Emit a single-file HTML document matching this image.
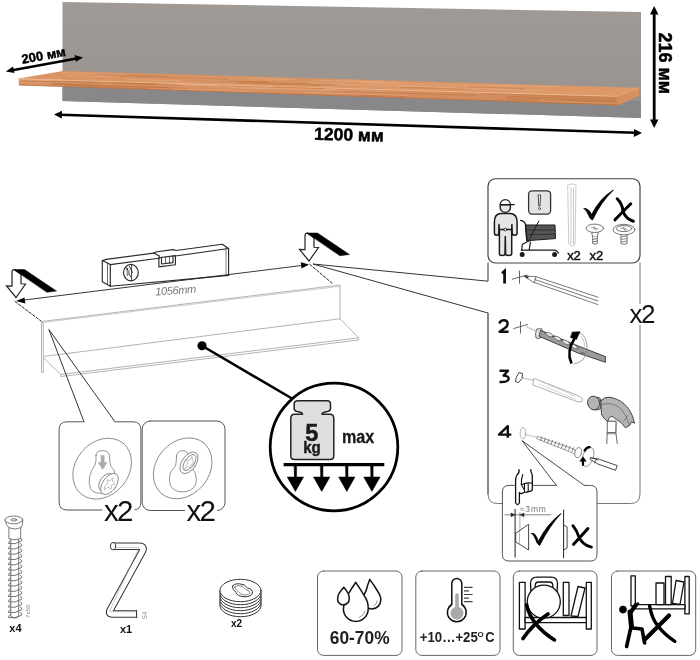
<!DOCTYPE html>
<html><head><meta charset="utf-8">
<style>
html,body{margin:0;padding:0;background:#fff;}
body{width:700px;height:660px;overflow:hidden;position:relative;}
svg{position:absolute;left:0;top:0;will-change:transform;}
text{font-family:"Liberation Sans",sans-serif;}
</style></head>
<body>
<svg width="700" height="660" viewBox="0 0 700 660">
<defs>
<linearGradient id="gp" x1="0" y1="0" x2="0" y2="1">
<stop offset="0" stop-color="#9f9a95"/><stop offset="0.7" stop-color="#9a9590"/><stop offset="1" stop-color="#928e8a"/>
</linearGradient>
<linearGradient id="wt" x1="0" y1="0" x2="0" y2="1">
<stop offset="0" stop-color="#d89263"/><stop offset="1" stop-color="#df9a69"/>
</linearGradient>
<linearGradient id="wf" x1="0" y1="0" x2="0" y2="1">
<stop offset="0" stop-color="#dc9565"/><stop offset="0.5" stop-color="#d69060"/><stop offset="1" stop-color="#cf895a"/>
</linearGradient>
</defs>
<g id="photo">
<polygon points="62.5,2 641,12 641,118 62.5,101" fill="url(#gp)"/>
<polygon points="62.5,86 641,101 641,118 62.5,101" fill="#88888a"/>
<polygon points="18.6,78.4 63,71 639,87.7 617.7,95.7" fill="url(#wt)"/>
<polygon points="18.6,78.4 617.7,95.7 617.7,105.4 19.1,85.3" fill="url(#wf)"/>
<g fill="none" stroke-linecap="round">
<path d="M110.0,75.8 L228.1,79.2 M298.9,79.5 L343.4,80.8 M468.2,86.8 L523.1,88.4 M240.2,81.2 L397.4,85.7 M92.4,74.1 L169.4,76.3 M227.4,81.2 L333.1,84.3 M256.6,82.3 L334.3,84.6 M400.5,87.2 L469.8,89.2 M182.6,80.5 L340.2,85.1 M289.2,79.8 L333.9,81.1 M196.3,81.9 L319.7,85.4" stroke="#b5703f" stroke-width="0.8" opacity="0.55"/>
<path d="M314.0,80.0 L397.9,82.5 M67.0,75.2 L117.9,76.7 M362.5,82.4 L516.3,86.9 M485.0,84.8 L559.7,87.0 M125.8,79.4 L235.6,82.6 M61.6,72.7 L126.3,74.5 M270.2,82.1 L346.2,84.3 M308.4,83.1 L453.4,87.3 M251.6,78.5 L382.5,82.3 M435.2,87.4 L544.0,90.6 M337.3,84.1 L432.1,86.8" stroke="#eab088" stroke-width="0.8" opacity="0.6"/>
<path d="M19,79 L617.7,96.3" stroke="#f0ba90" stroke-width="1.1" opacity="0.9"/>
<path d="M19.1,85 L617.7,105" stroke="#a8683a" stroke-width="0.9" opacity="0.7"/>
<path d="M53.4,84.0 L167.5,87.6 M566.2,100.2 L616.0,101.8 M273.9,86.9 L324.1,88.4 M52.4,80.9 L174.6,84.5 M64.3,85.5 L148.2,88.3 M505.9,97.6 L616.0,101.1 M506.3,96.2 L616.0,99.6 M116.9,83.0 L174.8,84.7 M22.3,80.8 L102.5,83.2 M331.5,90.9 L475.9,95.4 M49.7,83.9 L187.6,88.4 M501.0,99.1 L616.0,102.9 M54.2,83.9 L92.3,85.1 M109.3,83.1 L180.1,85.3 M220.0,85.8 L253.0,86.8 M357.7,95.1 L405.6,96.7 M486.9,93.9 L616.0,97.8" stroke="#b06a3a" stroke-width="0.7" opacity="0.6"/>
<path d="M539.6,100.8 L616.0,103.3 M232.2,87.3 L342.4,90.7 M156.2,84.1 L233.1,86.4 M173.1,89.0 L253.0,91.6 M286.7,88.6 L387.4,91.7 M303.5,92.2 L407.6,95.5 M239.4,88.2 L281.9,89.5 M20.1,79.6 L68.3,81.0 M211.1,86.5 L284.8,88.7" stroke="#eab088" stroke-width="0.7" opacity="0.6"/>
</g>
<polygon points="617.7,95.7 639,87.7 639,96 617.7,105.4" fill="#d89062"/>
<line x1="617.7" y1="95.7" x2="639" y2="87.7" stroke="#e8aa7a" stroke-width="0.8"/>
<!-- dims -->
<g fill="#000" stroke="#000">
<line x1="11" y1="70.5" x2="78" y2="58.3" stroke-width="2.4"/>
<polygon points="5.8,71.5 13,66.5 14.5,73" stroke="none"/>
<polygon points="83,57.4 74.5,55 76,61.8" stroke="none"/>
<line x1="60" y1="114.7" x2="636" y2="132.8" stroke-width="2.6"/>
<polygon points="54,114.5 62,110.8 61.8,118.5" stroke="none"/>
<polygon points="642,133 634,129 633.8,137" stroke="none"/>
<line x1="654.2" y1="12" x2="654.2" y2="122" stroke-width="2.8"/>
<polygon points="654.2,5.9 650,14.5 658.4,14.5" stroke="none"/>
<polygon points="654.2,128 650,119.5 658.4,119.5" stroke="none"/>
</g>
<text x="0" y="0" font-size="13" font-weight="bold" stroke="#000" stroke-width="0.45" transform="translate(22.5,63.8) rotate(-10.4)">200 мм</text>
<text x="0" y="0" font-size="17.5" font-weight="bold" stroke="#000" stroke-width="0.5" transform="translate(314,139.8) rotate(1.5)">1200 мм</text>
<text x="0" y="0" font-size="18" font-weight="bold" stroke="#000" stroke-width="0.5" transform="translate(658.8,32.5) rotate(90)">216 мм</text>
</g>

<g id="mid" fill="none" stroke-linejoin="round" stroke-linecap="round">
<!-- shelf drawing -->
<g stroke="#b4b4b4" stroke-width="1">
<polyline points="41.5,321.5 340,285 340,318.75"/>
<line x1="42.5" y1="322.5" x2="340" y2="286.3" stroke-width="0.7"/>
<polyline points="41.5,321.5 41.5,372.4 43.3,372.4 43.3,323"/>
<line x1="43.3" y1="356.5" x2="340" y2="318.75"/>
<polyline points="43.3,357.5 60.6,374.5 358.75,337.8"/>
<polyline points="60.6,374.5 60.9,376.5 358.75,340 358.75,337.8 340,318.75"/>
</g>
<!-- level -->
<g stroke="#2a2a2a" stroke-width="1.15">
<polygon points="102.3,260.6 110.3,264.6 110.3,286.3 102.3,281.7" fill="#fff"/>
<line x1="107.5" y1="263" x2="107.5" y2="284.5" stroke-width="0.7"/>
<polyline points="102.3,260.6 106.3,259.4 153.7,253.1 159.4,256 158.9,258.3"/>
<polyline points="153.7,253.1 157,251.8 173,249.6 176,250.5 222.4,244.3 228.6,248.5 228.6,275.4"/>
<line x1="110.3" y1="264.6" x2="158.9" y2="258.3"/>
<line x1="175.4" y1="256" x2="228.6" y2="248.5"/>
<line x1="110.3" y1="286.3" x2="228.6" y2="275.4"/>
<line x1="226" y1="246.8" x2="226" y2="275.5" stroke-width="0.6"/>
<polygon points="158.9,257.7 175.4,255.6 175.4,264.7 158.9,266.9"/>
<polyline points="161.5,257.4 161.5,264 173,262.6 173,255.9"/>
<line x1="165.5" y1="257" x2="165.5" y2="263.3" stroke-width="0.7"/>
<line x1="169.5" y1="256.4" x2="169.5" y2="262.9" stroke-width="0.7"/>
<ellipse cx="130.9" cy="272.6" rx="7.4" ry="8.2"/>
<path d="M131.6,264.8 L131.6,280.2 M125.8,267.5 L130.6,276.8 M127.5,268.5 L127.2,275.5 M129.5,266.5 L132.5,272.5" stroke-width="0.9"/><path d="M126.8,271 L129.5,269.5 L130,274 L127.5,275.5 Z" fill="#999" stroke="none"/>
</g>
<!-- dim line -->
<line x1="22" y1="300.3" x2="304" y2="265.2" stroke="#222" stroke-width="0.9"/>
<polygon points="16,301 24.5,297.5 25.3,303.6" fill="#000" stroke="none"/>
<polygon points="309,264.5 300.8,262.3 301.6,268.5" fill="#000" stroke="none"/>
<text x="0" y="0" font-size="11" font-style="italic" fill="#777" stroke="none" transform="translate(155.5,295.5) rotate(-4)" textLength="41">1056mm</text>
<!-- dashed -->
<g stroke="#222" stroke-width="1" stroke-dasharray="2.6,1.8">
<line x1="15" y1="301.5" x2="41" y2="321"/>
<line x1="310" y1="264.5" x2="333" y2="284"/>
</g>
<!-- arrow icons -->
<g id="ai">
<path d="M12,286.2 L12,272 Q12,269.5 14.5,269.5 L21,274.2 L21,283.8 L25.5,284 L16,297.5 L6.5,286 Z" fill="#fff" stroke="#222" stroke-width="1.2" stroke-linejoin="miter"/>
<polygon points="13.8,269.5 24.5,269.5 56.5,291 47,292.2" fill="#000" stroke="#000" stroke-width="0.5"/>
</g>
<g transform="translate(293,-36.5)">
<path d="M12,286.2 L12,272 Q12,269.5 14.5,269.5 L21,274.2 L21,283.8 L25.5,284 L16,297.5 L6.5,286 Z" fill="#fff" stroke="#222" stroke-width="1.2" stroke-linejoin="miter"/>
<polygon points="13.8,269.5 24.5,269.5 56.5,291 47,292.2" fill="#000" stroke="#000" stroke-width="0.5"/>
</g>
<!-- callout lines to instruction frame -->
<polyline points="488,263 488,281.2 313,264 488,313 488,494" stroke="#333" stroke-width="1"/>
<!-- dot and magnifier line -->
<circle cx="202" cy="345.75" r="4.6" fill="#000" stroke="none"/>
<line x1="202" y1="345.75" x2="292" y2="398.5" stroke="#000" stroke-width="2.6"/>
<!-- callout lines to panels -->
<polyline points="84,421.8 48.8,329.4 115,421.8" stroke="#333" stroke-width="1"/>
</g>

<g id="instr" fill="none" stroke-linejoin="round" stroke-linecap="round">
<!-- big frame -->
<path d="M488,313 L488,494 Q488,503.5 497.5,503.5 L630.5,503.5 Q640,503.5 640,494 L640,263" stroke="#777" stroke-width="1"/>
<rect x="630" y="304" width="22" height="21" fill="#fff" stroke="none"/>
<text x="629.5" y="323.3" font-size="26" fill="#111" stroke="none" letter-spacing="-1.6">x2</text>
<!-- top panel -->
<rect x="488" y="178.75" width="152" height="84.25" rx="7.5" fill="#fff" stroke="#444" stroke-width="1.2"/>
<!-- worker -->
<g stroke="#1a1a1a" stroke-width="1.5">
<path d="M500.5,213.5 Q494.4,214 494.4,222 L494.4,233 Q494.4,235.2 496.6,235.2 Q498.8,235.2 498.8,233 L499,224.5 L499.4,229.5 L499.4,253.8 Q499.4,255.5 502.2,255.5 Q505,255.5 505,253.8 L505.3,236.5 L505.6,253.8 Q505.6,255.5 508.6,255.5 Q511.7,255.5 511.7,253.8 L511.7,229.5 L511.9,224.5 L512.2,233 Q512.2,235.2 514.6,235.2 Q517.1,235.2 517.1,233 L517.1,222 Q517.1,214 510.5,213.5 Z" fill="#e6e6e6"/>
<line x1="499.4" y1="229.5" x2="511.7" y2="229.5" stroke-width="1.3"/>
<circle cx="505.4" cy="229.5" r="1.4" fill="#fff" stroke-width="0.9"/>
<circle cx="505.3" cy="207.2" r="5.2" fill="#e6e6e6" stroke-width="1.4"/>
<path d="M500.1,204.8 A5.2,5.2 0 0 1 510.5,204.8 Z" fill="#fff" stroke-width="1.2"/>
<line x1="500.1" y1="204.6" x2="514.3" y2="204.6" stroke-width="1.2"/>
</g>
<!-- exclamation -->
<rect x="528.6" y="190.8" width="22" height="23.3" rx="3.5" fill="#e3e3e3" stroke="#333" stroke-width="1.3"/>
<path d="M538.6,195 L540.6,195 L540,206 L539.2,206 Z" fill="#fff" stroke="#333" stroke-width="0.9"/>
<circle cx="539.6" cy="208.6" r="1" fill="#fff" stroke="#333" stroke-width="0.8"/>
<!-- cart -->
<g stroke="#1a1a1a" stroke-width="1.2">
<path d="M525.7,225 L555,225 L555.4,238.6 L527,240.7 Z" fill="#555" stroke-width="1"/>
<path d="M526.2,230 L555.2,230 M526.5,234.5 L555.3,234.2" stroke="#222" stroke-width="0.7"/>
<path d="M520.7,220.4 Q524.5,221 525.7,225 L527,240.7" stroke-width="1.3"/>
<path d="M538.9,221 L529.3,239.5" stroke-width="1"/>
<path d="M529.3,240.8 L522.3,244.3 L521.6,250.5 M530.4,242 L529.2,250" stroke-width="1.2"/>
<path d="M521.4,250.2 L555,250.2 Q557,250.5 558.4,253" stroke-width="1.3"/>
<circle cx="522.2" cy="254.4" r="1.9" fill="#1a1a1a"/>
<circle cx="554.6" cy="254.6" r="1.9" fill="#1a1a1a"/>
</g>
<!-- dowel -->
<g stroke="#bbb" stroke-width="0.8">
<path d="M568,185 Q572,182.5 576,185 L575,244 Q572,249 569,244 Z" fill="#fff"/>
<line x1="571" y1="188" x2="571" y2="244"/>
<line x1="573.5" y1="188" x2="573.5" y2="244"/>
</g>
<text x="567.3" y="259.5" font-size="13" fill="#111" stroke="#111" stroke-width="0.45" letter-spacing="-0.2">x2</text>
<text x="589.6" y="259.5" font-size="13" fill="#111" stroke="#111" stroke-width="0.45" letter-spacing="-0.2">x2</text>
<!-- check + x -->
<path d="M584.2,208.6 Q588.5,208 591.6,214.5 Q600,198 613.4,190 Q601,202 592.5,220 Q590,219.5 588.5,215 Q586.5,210.5 584.2,208.6 Z" fill="#000" stroke="#000" stroke-width="0.8"/>
<path d="M617.2,198.8 Q622.5,204 623,211.5 Q626,219 633.3,221.2" stroke="#000" stroke-width="3" />
<path d="M630.8,203.8 Q623.5,211 615,219.8" stroke="#000" stroke-width="3"/>
<!-- screws -->
<g stroke="#666" stroke-width="0.9" fill="#fff">
<path d="M591.5,231 L592.5,236.5 L597.5,236.5 L598.5,231 Z"/>
<ellipse cx="594.8" cy="228.3" rx="8.8" ry="4.2"/>
<path d="M591.5,227.5 L598,229 M594,226.5 L595.5,230" stroke-width="0.7"/>
<path d="M592.7,236.5 L592.7,243.5 Q595,245 597.3,243.5 L597.3,236.5 M592.7,239.5 L597.3,238.5 M592.7,242 L597.3,241" />
<path d="M621,234 L621,243.5 Q624,245 627,243.5 L627,234"/>
<path d="M621,237 L627,236 M621,239.5 L627,238.5 M621,242 L627,241" stroke-width="0.7"/>
<ellipse cx="624" cy="229.6" rx="11" ry="5.3"/>
<ellipse cx="624" cy="228.6" rx="7.8" ry="3"/>
<path d="M621,228 L627,229.5 M623.5,227 L624.8,230.5" stroke-width="0.7"/>
</g>
<!-- step 1 -->
<path d="M502,273.2 L504.6,271 L504.6,283.6" stroke="#111" stroke-width="2.8" stroke-linecap="butt" stroke-linejoin="miter"/>
<path d="M512.2,279.2 L527,275.1 M519.5,271 L519.5,283.3" stroke="#555" stroke-width="0.9"/>
<g stroke="#555" stroke-width="0.8">
<path d="M524.5,275.9 L536,276.7 L534.3,282.5 Z"/>
<path d="M536,276.7 L598,297.2 M535,279.6 L598,301 M534.3,282.5 L598,304.6"/>
<path d="M524.5,275.9 L528.5,276.3 L527.5,278.3 Z" fill="#111"/>
</g>
<!-- step 2 -->
<path d="M499.3,323.5 Q500.5,320.3 503.8,320.3 Q507.6,320.3 507.6,324 Q507.6,326.2 505,328 L499.6,331.8 L508.6,331.8" stroke="#111" stroke-width="2.5" stroke-linecap="butt"/>
<path d="M513.8,328.5 L527.7,324.5 M520.5,321.7 L520.5,333.2" stroke="#555" stroke-width="0.9"/>
<line x1="527" y1="327" x2="536" y2="331" stroke="#777" stroke-width="0.7" stroke-dasharray="1.2,1.2"/>
<path d="M537,329 L541.5,328.5 L543,331.5 L540,338.5 L536,338 L535.5,334 Z" fill="#ddd" stroke="#555" stroke-width="0.8"/>
<path d="M541,330.5 L579,346.3 L605.4,356.6 L605.4,362.3 L578,353 L539.5,336.5 Z" fill="#9a9a9a" stroke="#333" stroke-width="0.9"/>
<path d="M545,333 Q550,331 554,336.5 Q549,338 545,333 Z M553,336.5 Q558.5,335 562,340.5 Q557,342 553,336.5 Z M561.5,340 Q567,339 570.5,344.5 Q565,346 561.5,340 Z M570,344 Q575,343 578,348.5 Q573,350 570,344 Z" fill="#e8e8e8" stroke="#333" stroke-width="0.6"/>
<path d="M581,353 Q583,351 585,354" stroke="#333" stroke-width="0.6"/>
<path d="M578.5,331.8 Q588,336 587,350 Q585.5,362 574,364" stroke="#888" stroke-width="0.8"/>
<path d="M581,336 Q586,342 584.5,352" stroke="#aaa" stroke-width="0.6"/>
<path d="M571.5,363.5 Q566,352 574.5,338.5" stroke="#000" stroke-width="2.6" stroke-linecap="butt"/>
<path d="M572.5,332 L580,331.8 L576.5,339.5 L570.5,337.5 Z" fill="#000" stroke="#000" stroke-width="0.5"/>
<!-- step 3 -->
<path d="M499.5,370.8 L508,370.8 L503.6,375.6 Q509,375.8 508.6,379.3 Q507.8,382.3 499.5,382" stroke="#111" stroke-width="2.4" stroke-linecap="butt"/>
<path d="M516.5,377 L519,372.6 L522.5,373.5 L522,378.5 L518.5,382.6 L515.8,381.8 Z" stroke="#333" stroke-width="0.9"/>
<line x1="523" y1="378" x2="534" y2="380.5" stroke="#888" stroke-width="0.7" stroke-dasharray="1.2,1.2"/>
<path d="M534.3,378.5 L578,395.5 L582.5,398.5 L582,401.5 L578,402 L533,385 Z" fill="#fff" stroke="#999" stroke-width="0.8"/>
<line x1="540" y1="381" x2="576" y2="396.5" stroke="#bbb" stroke-width="0.6"/>
<line x1="539" y1="384" x2="576" y2="399.5" stroke="#bbb" stroke-width="0.6"/>
<!-- hammer -->
<path d="M607.3,421.5 L616,421.5 L615.8,432.5 L617.3,443.5 M607.2,432.5 L606.8,443.5" fill="none" stroke="#555" stroke-width="0.9"/>
<path d="M607.3,421.5 L607.2,432.5 L615.8,432.5 L616,421.5 Z" fill="#fff" stroke="#555" stroke-width="0.9"/>
<line x1="607.2" y1="433.8" x2="615.9" y2="433.8" stroke="#555" stroke-width="0.7"/>
<path d="M594.5,396.8 L599.5,397.8 L601.6,401 L601.6,406.5 L599.5,409.5 L595,410 Z" fill="#b4b4b4" stroke="#444" stroke-width="0.9"/>
<path d="M596.5,397.5 L598.5,409.5 M599.8,398.5 L600.8,408.5" stroke="#555" stroke-width="0.6"/>
<ellipse cx="593.6" cy="403" rx="6" ry="6.9" transform="rotate(-15 593.6 403)" fill="#b4b4b4" stroke="#444" stroke-width="0.9"/>
<path d="M601,400.5 Q604,397 610,397.2 Q621,399 628.5,408.5 Q633,415 634.6,423.2 L631.5,422 L629.5,425.5 L625.3,427.8 Q621,421 616.4,419.5 Q613,416.5 611,416.2 Q609.5,417 607.5,421.4 Q603,418 601.8,415 Q600.8,411 601,400.5 Z" fill="#b4b4b4" stroke="#333" stroke-width="0.9"/>
<path d="M601.5,404.5 Q614,401 622,410 Q627.5,417 629.5,425.5 M623.6,421.4 L627.3,416" stroke="#555" stroke-width="0.6"/>
<!-- step 4 -->
<path d="M507.8,437.8 L507.8,426.2 L499,434.6 L511.3,434.6" stroke="#111" stroke-width="2.4" stroke-linecap="butt"/>
<ellipse cx="523" cy="433.2" rx="2.8" ry="5.8" stroke="#aaa" stroke-width="0.9"/>
<line x1="525" y1="434.5" x2="538" y2="437.5" stroke="#999" stroke-width="0.7" stroke-dasharray="1.2,1.2"/>
<path d="M538,436.5 L575,449.5 L575,454 L537,438.8 Z" fill="#fff" stroke="#888" stroke-width="0.8"/>
<path d="M542,436.8 L540.5,440.5 M545.5,438 L544,441.8 M549,439.2 L547.5,443 M552.5,440.4 L551,444.2 M556,441.6 L554.5,445.4 M559.5,442.8 L558,446.6 M563,444 L561.5,447.8 M566.5,445.2 L565,449 M570,446.4 L568.5,450.2 M573.5,447.6 L572,451.4" stroke="#666" stroke-width="0.8"/>
<ellipse cx="578.2" cy="452.6" rx="3.3" ry="5.2" transform="rotate(15 578.2 452.6)" stroke="#888" stroke-width="0.9" fill="#fff"/>
<ellipse cx="588" cy="457" rx="5.3" ry="10" transform="rotate(20 588 457)" stroke="#888" stroke-width="0.8"/>
<path d="M584.3,451.5 Q586.5,446.5 590.5,447.2" stroke="#000" stroke-width="2.4" stroke-linecap="butt"/>
<path d="M583,465.8 L583,460" stroke="#000" stroke-width="2.2" stroke-linecap="butt"/>
<path d="M580,461 L583,456.8 L586,461 Z" fill="#000" stroke="#000" stroke-width="0.6"/>
<path d="M590.5,457.7 L598.5,459 L617.2,465.6 L615.6,470.3 L597.8,464 L590.5,459.5 Z" fill="#fff" stroke="#333" stroke-width="0.9"/>
<path d="M592,458 L598,460 M596.5,459 L594.5,463" stroke="#333" stroke-width="0.7"/>
<!-- small callout panel -->
<path d="M556.4,485.4 L509,485.4 Q502.4,485.4 502.4,492 L502.4,554.5 Q502.4,561 509,561 L590.5,561 Q597,561 597,554.5 L597,492 Q597,485.4 590.5,485.4 L584.3,485.4" fill="#fff" stroke="#555" stroke-width="1"/>
<path d="M556.4,485.4 L522,440.7 L584.3,485.4" stroke="#333" stroke-width="0.9"/>
<!-- hand -->
<path d="M519,469.6 Q519.5,473 517,475 Q515.6,477 515.6,480 L515.6,503 Q517.5,506 519.4,503 L519.4,492.5 Q521,494.5 523,493 L524.5,492 Q526.5,493 528,491.5 Q530.5,492 532.3,490 L532.3,476 Q532.3,474 531,472 L530.8,469.6" fill="#fff" stroke="#111" stroke-width="1.3"/>
<path d="M522.8,474.5 Q521,479 521.3,484.7 L524.5,490 M524.5,484.5 L524.5,491.8 M528.2,483.5 L528.2,491.3 M521.3,484.7 Q527,482 532,483.2" stroke="#111" stroke-width="1.1"/>
<!-- dims -->
<text x="0" y="0" font-size="8.5" fill="#777" stroke="none" transform="translate(519.9,511.8)" textLength="26">≈3mm</text>
<line x1="504.8" y1="514.8" x2="550.9" y2="514.8" stroke="#666" stroke-width="0.8"/>
<path d="M515,514.8 L511,513 L511,516.6 Z M520,514.8 L524,513 L524,516.6 Z" fill="#222" stroke="#222" stroke-width="0.5"/>
<line x1="515.1" y1="509.3" x2="515.1" y2="557" stroke="#222" stroke-width="1"/>
<line x1="519.9" y1="512.5" x2="519.9" y2="531" stroke="#777" stroke-width="0.7" stroke-dasharray="1.2,1.2"/>
<path d="M516,533 L528.6,524.3 L528.6,550 L516,542 Z" stroke="#333" stroke-width="0.9"/>
<line x1="519.5" y1="530.5" x2="519.5" y2="543" stroke="#888" stroke-width="0.6"/>
<path d="M531.8,533.3 Q535.5,532 538.3,541.5 Q547,524 561,513.6 Q549.5,526 539.6,545.5 Q537.2,544.5 535.6,539.5 Q534,535.2 531.8,533.3 Z" fill="#000" stroke="#000" stroke-width="0.8"/>
<line x1="563.6" y1="510" x2="563.6" y2="557.8" stroke="#222" stroke-width="1"/>
<path d="M563.6,525 L567.1,527 L567.1,548 L563.6,550" stroke="#333" stroke-width="0.9"/>
<path d="M572.9,525.7 Q577,531 578.5,536 Q582,545 591.4,547.1" stroke="#000" stroke-width="2.8"/>
<path d="M587.9,528.6 Q580.5,537 573.6,544.3" stroke="#000" stroke-width="3"/>
</g>

<g id="lower" fill="none" stroke-linejoin="round" stroke-linecap="round">
<!-- callout panels -->
<path d="M84,421.8 L67,421.8 Q59.1,421.8 59.1,429.8 L59.1,502 Q59.1,510 67,510 L133,510 Q140.9,510 140.9,502 L140.9,429.8 Q140.9,421.8 133,421.8 L115,421.8" fill="#fff" stroke="#555" stroke-width="1"/>
<rect x="142.2" y="421" width="82.8" height="89.5" rx="8" fill="#fff" stroke="#555" stroke-width="1"/>
<rect x="102.5" y="499" width="32" height="24" fill="#fff" stroke="none"/>
<rect x="185" y="499" width="32" height="24" fill="#fff" stroke="none"/>
<text x="104" y="521" font-size="29.5" fill="#111" stroke="none" letter-spacing="-1.8">x2</text>
<text x="186.6" y="521" font-size="29.5" fill="#111" stroke="none" letter-spacing="-1.8">x2</text>
<!-- panel 1 content -->
<g stroke="#7a7a7a" stroke-width="0.8" fill="#fff">
<ellipse cx="102.2" cy="468.6" rx="33" ry="26.5" transform="rotate(-50 102.2 468.6)"/>
<path d="M96,455.5 Q96,450.6 102.5,450.6 Q109.6,450.6 109.6,457 Q109.6,463 111,466.5 Q115.3,470 115.3,478 Q115.3,490 104,493 Q95,494.5 90.5,489 Q88.5,483 89.5,477 Q91,470 95,465 Q96.5,461 96,455.5 Z"/>
<path d="M101,455.5 L104.2,455.5 L104.2,462.5 L107,462.5 L102.6,469.5 L98.2,462.5 L101,462.5 Z" fill="#aaa" stroke="#aaa" stroke-width="0.5"/>
<ellipse cx="106.5" cy="482.5" rx="6.5" ry="10" transform="rotate(35 106.5 482.5)"/>
<ellipse cx="109.5" cy="484" rx="6.8" ry="12" transform="rotate(35 109.5 484)"/>
<path d="M105,486 L108,483 L107,480 L110.5,480.5 L113,477.5 L112.5,481.5 L115,484 L111.5,485 L111,489 L108,487 L104.5,490 Z" stroke="#999" stroke-width="0.6" fill="none"/>
</g>
<!-- panel 2 content -->
<g stroke="#7a7a7a" stroke-width="0.8" fill="#fff">
<ellipse cx="182.7" cy="468.3" rx="33" ry="26.5" transform="rotate(-50 182.7 468.3)"/>
<path d="M176.5,456 Q177,450.6 183,450.6 Q188.4,451 188.4,457 L188.4,462 Q189,466 193,469.5 Q196.4,473 196.4,480 Q196.4,489 186,491.7 Q175,493 170.5,486 Q168.5,480 170,474 Q172,469 175.5,466 Q176.5,462 176.5,456 Z"/>
<ellipse cx="189" cy="462.8" rx="7" ry="12.3" transform="rotate(35 189 462.8)"/>
<ellipse cx="189.5" cy="462.5" rx="4.6" ry="9.3" transform="rotate(35 189.5 462.5)"/>
<path d="M185.5,466.5 L188,463 L186.5,460 L190,460 L192,456.5 L192.5,460.5 L194.5,463 L191,464.5 L190.5,468 L188,466.5 L185,469 Z" stroke="#999" stroke-width="0.6" fill="none"/>
</g>
<!-- magnifier -->
<circle cx="334" cy="447" r="63.8" fill="#fff" stroke="#000" stroke-width="2.8"/>
<path d="M298,400.8 L327,400.8 Q330.5,400.8 330.5,404 L330.5,408.5 Q330.5,411 327.5,411.5 Q321.5,412.2 322,414.3 L330,414.3 Q333.8,414.3 333.8,418.5 L333.8,456 Q333.8,459.5 330,459.5 L294.5,459.5 Q290.8,459.5 290.8,456 L290.8,418.5 Q290.8,414.3 294.5,414.3 L302.5,414.3 Q303,412.2 297,411.5 Q294.2,411 294.2,408.5 L294.2,404 Q294.2,400.8 298,400.8 Z" fill="#dedede" stroke="#222" stroke-width="1.5"/>
<text x="311.7" y="441.2" font-size="23.5" font-weight="bold" fill="#1a1a1a" stroke="#1a1a1a" stroke-width="0.5" text-anchor="middle">5</text>
<text x="312" y="452.6" font-size="16" font-weight="bold" fill="#1a1a1a" stroke="#1a1a1a" stroke-width="0.4" text-anchor="middle" textLength="17.6" lengthAdjust="spacingAndGlyphs">kg</text>
<text x="342" y="443" font-size="18.5" font-weight="bold" fill="#1a1a1a" stroke="#1a1a1a" stroke-width="0.3" textLength="32.3" lengthAdjust="spacingAndGlyphs">max</text>
<line x1="283.6" y1="464.6" x2="384.3" y2="464.6" stroke="#000" stroke-width="3.2" stroke-linecap="butt"/>
<g fill="#000" stroke="#000" stroke-width="0.5">
<path d="M294.2,464 L296.6,464 L296.6,477 L303.6,477 L295.4,491.4 L287.2,477 L294.2,477 Z"/>
<path d="M320.5,464 L322.9,464 L322.9,477 L329.9,477 L321.7,491.4 L313.5,477 L320.5,477 Z"/>
<path d="M345.6,464 L348,464 L348,477 L355,477 L346.8,491.4 L338.6,477 L345.6,477 Z"/>
<path d="M370.7,464 L373.1,464 L373.1,477 L380.1,477 L371.9,491.4 L363.7,477 L370.7,477 Z"/>
</g>
<!-- screw -->
<g stroke="#555" stroke-width="0.8" fill="#fff">
<path d="M10.8,538 L10.8,616.5 Q14.8,619.5 18.7,616.5 L18.7,538 Z" fill="#fff"/>
<path d="M10.5,540.5 Q8,542.0 8.5,543.5 Q15,545.0 21.5,541.0 Q23,539.3 20.5,538.3 M10.5,545.8 Q8,547.3 8.5,548.8 Q15,550.3 21.5,546.3 Q23,544.6 20.5,543.6 M10.5,551.1 Q8,552.6 8.5,554.1 Q15,555.6 21.5,551.6 Q23,549.9 20.5,548.9 M10.5,556.4 Q8,557.9 8.5,559.4 Q15,560.9 21.5,556.9 Q23,555.2 20.5,554.2 M10.5,561.7 Q8,563.2 8.5,564.7 Q15,566.2 21.5,562.2 Q23,560.5 20.5,559.5 M10.5,567.0 Q8,568.5 8.5,570.0 Q15,571.5 21.5,567.5 Q23,565.8 20.5,564.8 M10.5,572.3 Q8,573.8 8.5,575.3 Q15,576.8 21.5,572.8 Q23,571.1 20.5,570.1 M10.5,577.6 Q8,579.1 8.5,580.6 Q15,582.1 21.5,578.1 Q23,576.4 20.5,575.4 M10.5,582.9 Q8,584.4 8.5,585.9 Q15,587.4 21.5,583.4 Q23,581.7 20.5,580.7 M10.5,588.2 Q8,589.7 8.5,591.2 Q15,592.7 21.5,588.7 Q23,587.0 20.5,586.0 M10.5,593.5 Q8,595.0 8.5,596.5 Q15,598.0 21.5,594.0 Q23,592.3 20.5,591.3 M10.5,598.8 Q8,600.3 8.5,601.8 Q15,603.3 21.5,599.3 Q23,597.6 20.5,596.6 M10.5,604.1 Q8,605.6 8.5,607.1 Q15,608.6 21.5,604.6 Q23,602.9 20.5,601.9 M10.5,609.4 Q8,610.9 8.5,612.4 Q15,613.9 21.5,609.9 Q23,608.2 20.5,607.2 M10.5,614.7 Q8,616.2 8.5,617.7 Q15,619.2 21.5,615.2 Q23,613.5 20.5,612.5" fill="none" stroke="#555" stroke-width="0.8"/>
<path d="M8.9,525 L8.9,538.6 Q14.8,541 20.7,538.6 L20.7,525 Z"/>
<path d="M5,520 Q6,525.5 8.9,527.7 Q14.8,530.5 20.7,527.7 Q23.5,525.5 22.7,520"/>
<ellipse cx="13.8" cy="519.9" rx="8.9" ry="3.9"/>
<ellipse cx="13.8" cy="519.9" rx="3" ry="1.1"/>
</g>
<text x="0" y="0" font-size="6" fill="#888" stroke="none" transform="translate(29.5,618) rotate(-90)" textLength="13.5">7x50</text>
<text x="9.3" y="631.8" font-size="11" font-weight="bold" fill="#111" stroke="none">x4</text>
<!-- hex key -->
<path d="M113,546.2 L139.5,546.2 Q145,546.5 142.3,551.5 L110.5,609.5 Q107.8,614 112.5,614 L136.5,614" stroke="#333" stroke-width="7.4" stroke-linecap="butt" fill="none"/>
<path d="M113,546.2 L139.5,546.2 Q145,546.5 142.3,551.5 L110.5,609.5 Q107.8,614 112.5,614 L136.3,614" stroke="#fff" stroke-width="5.4" stroke-linecap="butt" fill="none"/>
<path d="M114,547.5 L139,547.5 L109.5,611.5 L136,612" stroke="#999" stroke-width="0.5" fill="none"/>
<line x1="136.6" y1="610.3" x2="136.6" y2="617.7" stroke="#333" stroke-width="1"/>
<ellipse cx="113" cy="546.2" rx="2.6" ry="3.7" fill="#fff" stroke="#333" stroke-width="1"/>
<text x="0" y="0" font-size="6.5" fill="#888" stroke="none" transform="translate(146.5,619.5) rotate(-90)">S4</text>
<text x="120" y="632.6" font-size="11" font-weight="bold" fill="#111" stroke="none">x1</text>
<!-- washers -->
<g stroke="#333" stroke-width="1" fill="#fff">
<path d="M220,590.5 L220,605.5 A20.5,11.2 0 0 0 261,605.5 L261,590.5"/>
<path d="M220,593.5 A20.5,11.2 0 0 0 261,593.5 M220,596.5 A20.5,11.2 0 0 0 261,596.5 M220,599.5 A20.5,11.2 0 0 0 261,599.5 M220,602.5 A20.5,11.2 0 0 0 261,602.5"/>
<ellipse cx="240.5" cy="590.5" rx="20.5" ry="11.2"/>
<path d="M232.5,586.2 Q233.5,583.5 239.5,583.8 Q245,584 247.5,588 Q252.8,589 252.5,593 Q251.5,596.9 244,596.7 Q237,596.2 235.8,592.2 Q232,589.5 232.5,586.2 Z" stroke="#333" stroke-width="1"/>
<path d="M234.8,587 Q235.5,585.5 239.5,585.6 Q243.5,586 245.5,589.5 Q250,590.3 250,593 Q249.3,595 244.5,594.9 Q239.5,594.5 238.3,591.5 Q235,589.5 234.8,587 Z" stroke="#555" stroke-width="0.7"/>
</g>
<text x="231" y="627.3" font-size="10" font-weight="bold" fill="#111" stroke="none">x2</text>
</g>

<g id="boxes" fill="none" stroke-linejoin="round" stroke-linecap="round">
<rect x="317.5" y="571" width="84.5" height="84.4" rx="6" fill="#fff" stroke="#666" stroke-width="1"/>
<rect x="415.8" y="571" width="84.2" height="84.4" rx="6" fill="#fff" stroke="#666" stroke-width="1"/>
<rect x="513.3" y="571" width="83.7" height="84.4" rx="6" fill="#fff" stroke="#666" stroke-width="1"/>
<rect x="611.5" y="571" width="84.2" height="84.4" rx="6" fill="#fff" stroke="#666" stroke-width="1"/>
<!-- drops -->
<g stroke="#111" stroke-width="1.5" fill="#fff">
<path d="M369.7,579.4 Q374,585 377.5,591 Q381,596 380.8,600 A9,9 0 0 1 362.8,600 Q362.8,596 366,591 Q367.5,585 369.7,579.4 Z"/>
<path d="M355.8,582.3 Q361,590 365,597 Q368.5,602 368.2,609 A12.4,12.4 0 0 1 343.4,609 Q343.4,603 346.5,597 Q350.5,590 355.8,582.3 Z"/>
<path d="M343.8,587.3 Q346.5,590.5 348.2,593.5 Q349.2,595.5 349.2,599.2 A5.8,5.8 0 0 1 337.6,599.2 Q337.6,596 339,593.5 Q341,590.5 343.8,587.3 Z"/>
</g>
<path d="M347,602 A3.5,3.5 0 0 1 344,604 M365,611 A9,9 0 0 1 359,617.5 M377,601 A6,6 0 0 1 374,606" stroke="#555" stroke-width="0.6"/>
<text x="329.8" y="643.6" font-size="18.6" font-weight="bold" fill="#222" stroke="none" textLength="59.8" lengthAdjust="spacingAndGlyphs">60-70%</text>
<!-- thermometer -->
<path d="M451.8,604.5 L451.8,583.5 A5,5 0 0 1 461.8,583.5 L461.8,604.5 A9.4,9.4 0 1 1 451.8,604.5 Z" fill="#fff" stroke="#111" stroke-width="1.5"/>
<path d="M455.2,595 A1.8,1.8 0 0 1 458.8,595 L458.8,607 A6.5,6.5 0 1 1 455.2,607 Z" fill="#aaa" stroke="none"/>
<path d="M464,587.3 L472.6,587.3 M464,590.9 L469,590.9 M464,594.5 L472.6,594.5 M464,598.1 L469,598.1 M464,601.7 L472.6,601.7" stroke="#444" stroke-width="1.2" stroke-linecap="butt"/>
<text x="419.8" y="642.2" font-size="15" font-weight="bold" fill="#222" stroke="none" textLength="58" lengthAdjust="spacingAndGlyphs">+10…+25</text>
<text x="477.6" y="637.3" font-size="8" font-weight="bold" fill="#222" stroke="none" textLength="7">O</text>
<text x="0" y="0" font-size="15" font-weight="bold" fill="#222" stroke="none" transform="translate(485.3,642.2) scale(0.86,1)">C</text>
<!-- kettlebell shelf -->
<g stroke="#111" stroke-width="1.3" fill="#fff">
<rect x="519.4" y="582.3" width="5.7" height="46.7"/>
<rect x="586.3" y="582.3" width="5" height="46.7"/>
<rect x="525.1" y="617.5" width="61.2" height="5.1"/>
<rect x="563.3" y="582.3" width="5.7" height="33.2"/>
<path d="M571,616 L578,616.5 L585,588 L578,586.5 Z"/>
<path d="M531,593 L530.5,583.5 Q530.5,577.2 537,577.2 L551,577.2 Q557.5,577.2 557.5,583.5 L557,593 Z M535.2,592 L535.2,585.5 Q535.2,582 538.7,582 L549.3,582 Q552.8,582 552.8,585.5 L552.8,592 Z" fill-rule="evenodd"/>
<circle cx="543.8" cy="601.7" r="16.5"/>
</g>
<path d="M523,638.5 Q533,624 548,614" stroke="#000" stroke-width="3.8"/>
<path d="M526.6,605 Q531,625 554.5,640" stroke="#000" stroke-width="3.5"/>
<!-- person shelf -->
<g stroke="#111" stroke-width="1.3" fill="#fff">
<rect x="631" y="575.8" width="4.3" height="30.2"/>
<rect x="684.9" y="576.5" width="4.3" height="37.4"/>
<rect x="635.3" y="604.6" width="49.6" height="4.3"/>
<rect x="656" y="583" width="8" height="21.6"/>
<rect x="665.5" y="576.5" width="5.7" height="28.1"/>
<path d="M672.5,603.5 L680,604.5 L684,582 L676,580.5 Z"/>
</g>
<circle cx="623" cy="609.6" r="3.8" fill="#000"/>
<path d="M630,612 L631.5,627" stroke="#000" stroke-width="5" stroke-linecap="round"/>
<path d="M631,613 L638,603.5 M629.5,612.5 L635.5,604" stroke="#000" stroke-width="2.6" stroke-linecap="round"/>
<path d="M631,627 L626.6,646.5" stroke="#000" stroke-width="3.6" stroke-linecap="round"/>
<path d="M632.5,628 L642,629 L644.6,643" stroke="#000" stroke-width="3.6" stroke-linecap="round" stroke-linejoin="round"/>
<path d="M644.6,639.8 L669,615.4" stroke="#000" stroke-width="4.2" stroke-linecap="round"/>
<path d="M649.6,606 Q652,619 657.6,625.4 Q664,634 674.8,641.3" stroke="#000" stroke-width="3.4" stroke-linecap="round"/>
</g>
</svg>
</body></html>
